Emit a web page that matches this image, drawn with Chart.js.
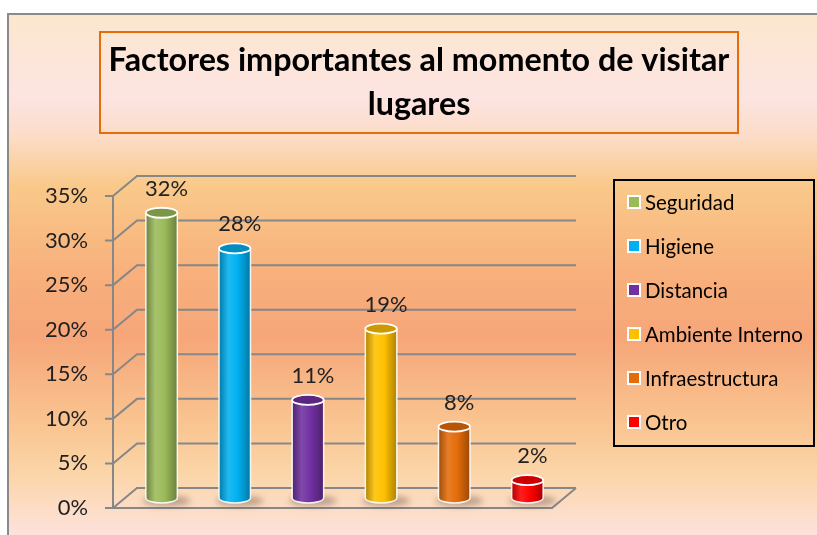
<!DOCTYPE html>
<html><head><meta charset="utf-8">
<script src="https://cdn.jsdelivr.net/npm/chart.js@4/dist/chart.umd.min.js"></script>
<style>html,body{margin:0;padding:0;background:#fff}#wrap{width:817px;height:535px}</style>
</head><body><div id="wrap"><canvas id="c" width="817" height="535"></canvas></div>
<script>
const categories = ['Seguridad', 'Higiene', 'Distancia', 'Ambiente Interno', 'Infraestructura', 'Otro'];
const values = [32, 28, 11, 19, 8, 2];
const yTicks = [0, 5, 10, 15, 20, 25, 30, 35];
const titleLines = ['Factores importantes al momento de visitar', 'lugares'];
const barColors = ['#9bbb59', '#00b0f0', '#7030a0', '#ffc000', '#e46c0a', '#ff0000'];

const FAMILY = 'Lato, "Open Sans", sans-serif';
const DX = 24, DY = 20;               // 3-D depth offset (front -> back wall)
const HX = DX / 2, HY = DY / 2;       // bars sit at mid depth
const BACK_RIGHT = 576;

function fitSize(text, width, weight) {
  const c = document.createElement('canvas').getContext('2d');
  c.font = (weight || 'normal') + ' 100px ' + FAMILY;
  return 100 * width / c.measureText(text).width;
}
const titleSize = fitSize(titleLines[0], 621, 'bold');
const tickSize = fitSize('35%', 43);
const legendSize = fitSize('Ambiente Interno', 158);

function hexRgb(h) { h = h.replace('#', ''); return [0, 2, 4].map(i => parseInt(h.substr(i, 2), 16)); }
function mix(h, t, f) { const a = hexRgb(h), b = t === 'w' ? [255, 255, 255] : [0, 0, 0]; return 'rgb(' + a.map((v, i) => Math.round(v + (b[i] - v) * f)).join(',') + ')'; }
function bodyGrad(ctx, x0, x1, col) {
  const g = ctx.createLinearGradient(x0, 0, x1, 0);
  g.addColorStop(0, mix(col, 'k', 0.3));
  g.addColorStop(0.3, mix(col, 'w', 0.12));
  g.addColorStop(0.6, col);
  g.addColorStop(1, mix(col, 'k', 0.32));
  return g;
}

const bgStops = [[0, '#fbe7cd'], [0.16, '#fde4e2'], [0.24, '#fcdcc6'], [0.33, '#f9c98a'], [0.5, '#f8b07c'], [0.62, '#f6a679'], [0.78, '#f9c38f'], [0.88, '#fbd5a7'], [1, '#fde2dc']];

const scene = {
  id: 'scene',
  beforeDraw(chart) {
    const ctx = chart.ctx;
    ctx.save();
    ctx.fillStyle = '#fff';
    ctx.fillRect(0, 0, chart.width, chart.height);
    const g = ctx.createLinearGradient(0, 13, 0, 535);
    bgStops.forEach(s => g.addColorStop(s[0], s[1]));
    ctx.fillStyle = g;
    ctx.fillRect(8, 13, chart.width - 8, chart.height - 13);
    ctx.strokeStyle = '#8a8a8a'; ctx.lineWidth = 2;
    ctx.beginPath(); ctx.moveTo(8, 535); ctx.lineTo(8, 14); ctx.lineTo(817, 14); ctx.stroke();
    ctx.strokeStyle = '#e46c0a'; ctx.lineWidth = 2;
    ctx.strokeRect(100, 32, 638, 101);
    ctx.restore();
  },
  beforeDatasetsDraw(chart) {
    const ctx = chart.ctx, y = chart.scales.y, a = chart.chartArea;
    const xl = a.left, xr = a.right;
    ctx.save();
    ctx.strokeStyle = '#878787'; ctx.lineWidth = 2; ctx.lineCap = 'butt';
    yTicks.forEach(v => {
      const py = y.getPixelForValue(v);
      ctx.beginPath();
      ctx.moveTo(xl - 8, py); ctx.lineTo(xl, py);
      ctx.lineTo(xl + DX, py - DY); ctx.lineTo(BACK_RIGHT, py - DY);
      ctx.stroke();
    });
    const y0 = y.getPixelForValue(0), yt = y.getPixelForValue(yTicks[yTicks.length - 1]);
    ctx.beginPath();
    ctx.moveTo(xl, yt); ctx.lineTo(xl, y0); ctx.lineTo(xr, y0); ctx.lineTo(BACK_RIGHT, y0 - DY);
    ctx.stroke();
    ctx.restore();
    ctx.save();
    ctx.translate(HX, -HY);
    const meta = chart.getDatasetMeta(0);
    meta.data.forEach(el => {
      ctx.save();
      ctx.filter = 'blur(3px)';
      ctx.fillStyle = 'rgba(60,40,30,0.35)';
      ctx.beginPath();
      ctx.ellipse(el.x + 5, el.base + 3, el.width / 2 + 8, 5, 0, 0, Math.PI * 2);
      ctx.fill();
      ctx.restore();
    });
  },
  afterDatasetsDraw(chart) {
    const ctx = chart.ctx;
    const meta = chart.getDatasetMeta(0);
    const RY = 5;
    meta.data.forEach((el, i) => {
      const col = barColors[i];
      const rx = el.width / 2, x0 = el.x - rx, x1 = el.x + rx;
      ctx.fillStyle = bodyGrad(ctx, x0, x1, col);
      ctx.beginPath();
      ctx.moveTo(x0, el.base);
      ctx.ellipse(el.x, el.base, rx, RY, 0, Math.PI, 0, true);
      ctx.closePath(); ctx.fill();
      ctx.strokeStyle = 'rgba(255,255,255,0.9)'; ctx.lineWidth = 1.5;
      ctx.beginPath();
      ctx.moveTo(x0, el.y); ctx.lineTo(x0, el.base);
      ctx.ellipse(el.x, el.base, rx, RY, 0, Math.PI, 0, true);
      ctx.lineTo(x1, el.y);
      ctx.stroke();
      ctx.fillStyle = mix(col, 'k', 0.2);
      ctx.beginPath();
      ctx.ellipse(el.x, el.y, rx, RY, 0, 0, Math.PI * 2);
      ctx.fill();
      ctx.strokeStyle = '#ffffff'; ctx.lineWidth = 1.8;
      ctx.stroke();
    });
    ctx.restore();
    ctx.save();
    ctx.fillStyle = '#222';
    ctx.font = tickSize + 'px ' + FAMILY;
    ctx.textAlign = 'center'; ctx.textBaseline = 'middle';
    meta.data.forEach((el, i) => {
      ctx.fillText(values[i] + '%', el.x + HX + 5, el.y - HY - 24);
    });
    ctx.restore();
    ctx.save();
    ctx.strokeStyle = '#000'; ctx.lineWidth = 2;
    ctx.strokeRect(614, 180, 200, 266);
    ctx.font = legendSize + 'px ' + FAMILY;
    ctx.textAlign = 'left'; ctx.textBaseline = 'middle';
    categories.forEach((c, i) => {
      const cy = 202 + i * 44;
      ctx.fillStyle = '#fff';
      ctx.fillRect(627, cy - 7, 14, 14);
      ctx.fillStyle = barColors[i];
      ctx.fillRect(629, cy - 5, 10, 10);
      ctx.fillStyle = '#000';
      ctx.fillText(c, 645, cy + 1);
    });
    ctx.restore();
  }
};

new Chart(document.getElementById('c'), {
  type: 'bar',
  data: {
    labels: categories,
    datasets: [{
      data: values,
      borderWidth: 0,
      clip: false,
      categoryPercentage: 1,
      barPercentage: 0.43,
      backgroundColor(context) {
        const chart = context.chart, col = barColors[context.dataIndex];
        if (!chart.chartArea || !chart.scales.x) return col;
        const xs = chart.scales.x;
        const cx = xs.getPixelForValue(context.dataIndex);
        const w = xs.width / categories.length * 0.43;
        return bodyGrad(chart.ctx, cx - w / 2, cx + w / 2, col);
      }
    }]
  },
  options: {
    responsive: false,
    animation: false,
    devicePixelRatio: 1,
    layout: { padding: { left: 21, right: 0, top: 0, bottom: 27 } },
    plugins: {
      legend: { display: false },
      tooltip: { enabled: false },
      title: {
        display: true,
        text: titleLines,
        color: '#000',
        font: { family: FAMILY, size: titleSize, weight: 'bold', lineHeight: '44px' },
        padding: { top: 39, bottom: 69 }
      }
    },
    scales: {
      x: { display: false },
      y: {
        min: 0, max: 35,
        afterBuildTicks(s) { s.ticks = yTicks.map(v => ({ value: v })); },
        afterFit(s) { s.width = 92; },
        grid: { display: false, drawTicks: true, tickLength: 25 },
        border: { display: false },
        ticks: {
          padding: 0,
          color: '#1f1f1f',
          font: { family: FAMILY, size: tickSize },
          callback: v => v + '%'
        }
      },
      yR: {
        type: 'linear', position: 'right', display: true,
        grid: { display: false, drawTicks: false },
        border: { display: false },
        ticks: { display: false },
        afterFit(s) { s.width = 265; }
      }
    }
  },
  plugins: [scene]
});
</script>
</body></html>
